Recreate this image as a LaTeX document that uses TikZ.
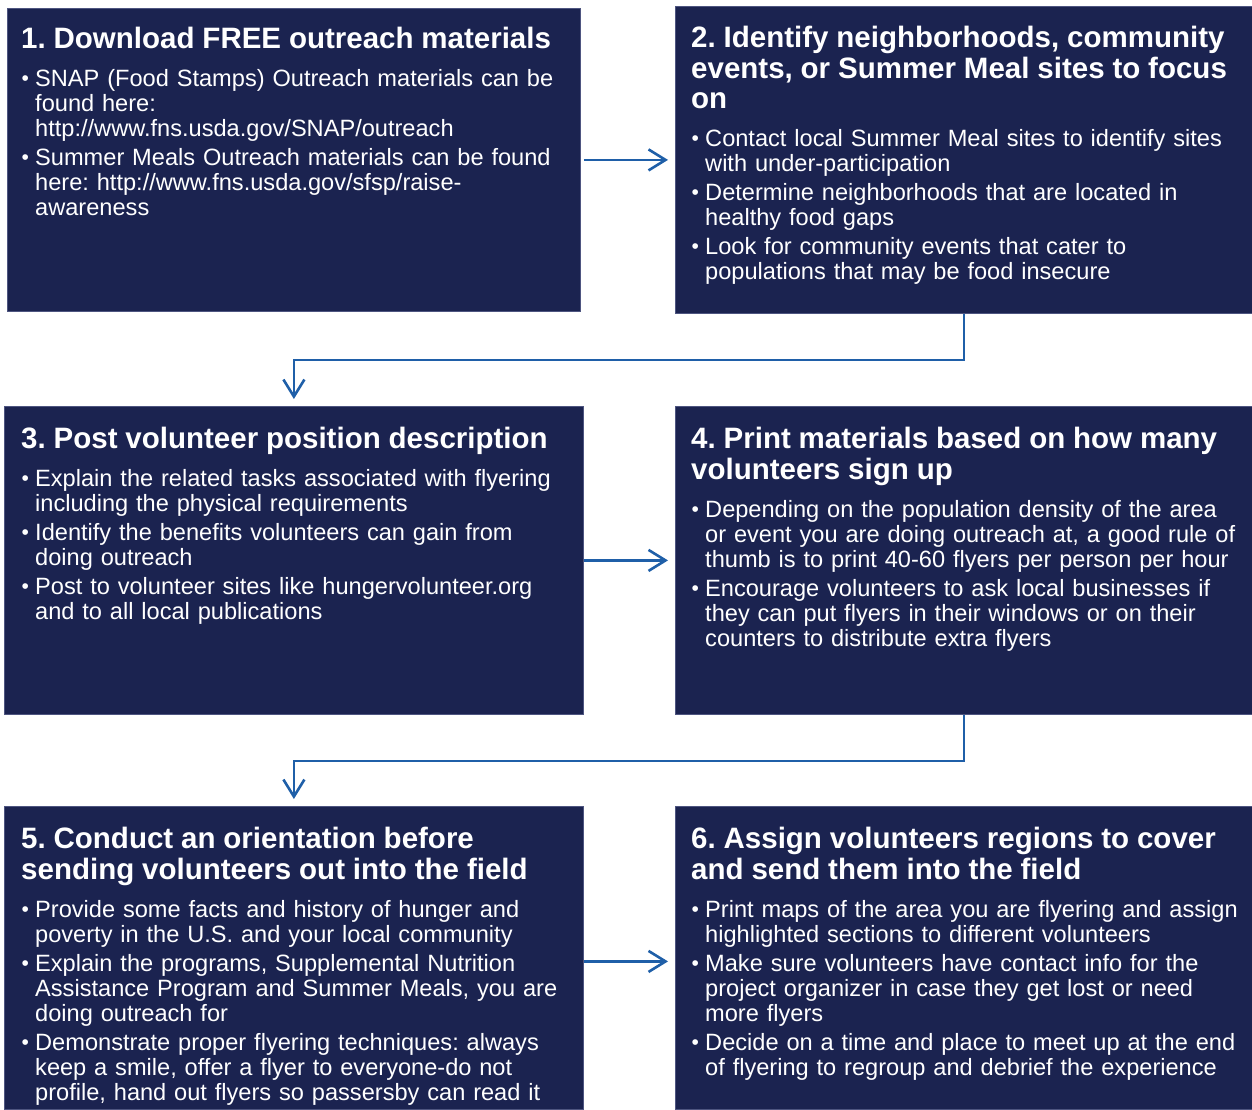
\documentclass[tikz,border=0pt]{standalone}
\usepackage{fontspec}
\setmainfont{Liberation Sans}
\usetikzlibrary{arrows.meta}

\definecolor{navy}{HTML}{1B2350}
\definecolor{navyedge}{HTML}{4E5580}
\definecolor{flowblue}{HTML}{1F5FA8}

% heading of a step and one bullet point
\newcommand{\stephead}[1]{{\fontsize{29.5pt}{30.5pt}\selectfont\bfseries #1\par}\vspace{9pt}}
\newcommand{\bpoint}{\par\hangindent=14pt\hangafter=1\noindent
  \hbox to 14pt{\hskip0.5pt\raisebox{1pt}{\fontsize{21pt}{21pt}\selectfont\textbullet}\hfil}}

\tikzset{
  stepbox/.style={fill=navy, draw=navyedge, line width=0.8pt, anchor=north west, inner sep=0pt},
  steptext/.style={anchor=north west, inner sep=0pt, text=white, text width=570pt,
    font=\fontsize{23.6pt}{25pt}\selectfont,
    execute at begin node={\frenchspacing\parindent=0pt\parskip=4pt\raggedright}},
  flow/.style={draw=flowblue, line width=2.6pt, -{Straight Barb[length=17pt,width=21pt]}, shorten >=7pt}
}

\begin{document}
\begin{tikzpicture}[x=1pt,y=-1pt]
  \useasboundingbox (0,0) rectangle (1252,1109);

  % boxes
  \node[stepbox, minimum width=573pt, minimum height=303pt] (b1) at (7,8) {};
  \node[stepbox, minimum width=577pt, minimum height=307pt] (b2) at (675,6) {};
  \node[stepbox, minimum width=579pt, minimum height=308pt] (b3) at (4,406) {};
  \node[stepbox, minimum width=577pt, minimum height=308pt] (b4) at (675,406) {};
  \node[stepbox, minimum width=579pt, minimum height=303pt] (b5) at (4,806) {};
  \node[stepbox, minimum width=577pt, minimum height=303pt] (b6) at (675,806) {};

  % texts
  \node[steptext] (t1) at (21,27) {\stephead{1. Download FREE outreach materials}%
    \bpoint SNAP (Food Stamps) Outreach materials can be\newline found here:\newline http://www.fns.usda.gov/SNAP/outreach
    \bpoint Summer Meals Outreach materials can be found\newline here: http://www.fns.usda.gov/sfsp/raise-\newline awareness\par};
  \node[steptext] (t2) at (691,26) {\stephead{2. Identify neighborhoods, community\newline events, or Summer Meal sites to focus\newline on}%
    \bpoint Contact local Summer Meal sites to identify sites\newline with under-participation
    \bpoint Determine neighborhoods that are located in\newline healthy food gaps
    \bpoint Look for community events that cater to\newline populations that may be food insecure\par};
  \node[steptext] (t3) at (21,427) {\stephead{3. Post volunteer position description}%
    \bpoint Explain the related tasks associated with flyering\newline including the physical requirements
    \bpoint Identify the benefits volunteers can gain from\newline doing outreach
    \bpoint Post to volunteer sites like hungervolunteer.org\newline and to all local publications\par};
  \node[steptext] (t4) at (691,427) {\stephead{4. Print materials based on how many\newline volunteers sign up}%
    \bpoint Depending on the population density of the area\newline or event you are doing outreach at, a good rule of\newline thumb is to print 40-60 flyers per person per hour
    \bpoint Encourage volunteers to ask local businesses if\newline they can put flyers in their windows or on their\newline counters to distribute extra flyers\par};
  \node[steptext] (t5) at (21,827) {\stephead{5. Conduct an orientation before\newline sending volunteers out into the field}%
    \bpoint Provide some facts and history of hunger and\newline poverty in the U.S. and your local community
    \bpoint Explain the programs, Supplemental Nutrition\newline Assistance Program and Summer Meals, you are\newline doing outreach for
    \bpoint Demonstrate proper flyering techniques: always\newline keep a smile, offer a flyer to everyone-do not\newline profile, hand out flyers so passersby can read it\par};
  \node[steptext] (t6) at (691,827) {\stephead{6. Assign volunteers regions to cover\newline and send them into the field}%
    \bpoint Print maps of the area you are flyering and assign\newline highlighted sections to different volunteers
    \bpoint Make sure volunteers have contact info for the\newline project organizer in case they get lost or need\newline more flyers
    \bpoint Decide on a time and place to meet up at the end\newline of flyering to regroup and debrief the experience\par};

  % connectors
  \draw[flow] ([xshift=3pt]b1.east) -- (b1.east -| b2.west);
  \draw[flow] (b2.south) -- ++(0,46) -| (b3.north);
  \draw[flow] (b3.east) -- (b3.east -| b4.west);
  \draw[flow] (b4.south) -- ++(0,46) -| (b5.north);
  \draw[flow] ([yshift=-3.5pt]b5.east) -- ([yshift=-3.5pt]b5.east -| b6.west);
\end{tikzpicture}
\end{document}
